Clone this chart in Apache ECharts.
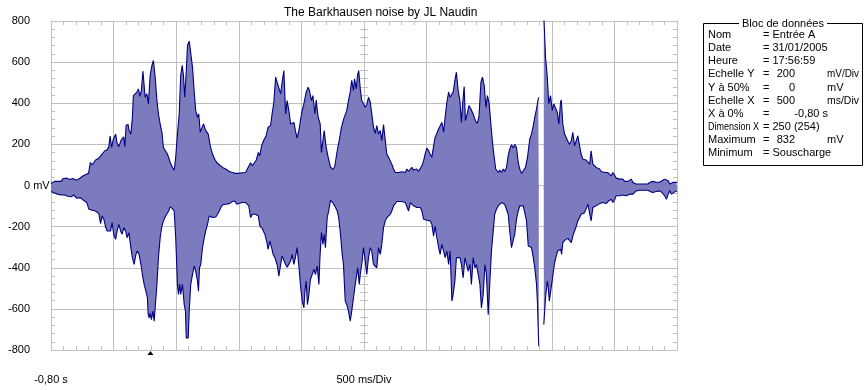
<!DOCTYPE html>
<html><head><meta charset="utf-8">
<script src="https://cdn.jsdelivr.net/npm/echarts@6/dist/echarts.min.js"></script>
<style>html,body{margin:0;padding:0;background:#fff}#c{width:867px;height:390px}</style>
</head><body><div id="c"></div>
<script>
// x in samples (0..250, 25 samples per division), y in mV
const titleText = 'The Barkhausen noise by JL Naudin';
const yTickLabels = {'800':'800','600':'600','400':'400','200':'200','0':'0 mV','-200':'-200','-400':'-400','-600':'-600','-800':'-800'};
const xTickLabels = {'0':'-0,80 s','125':'500 ms/Div'};
const triggerSample = 39.7;

const upper = [[0,10],[1.4,20],[4.1,20],[4.7,33],[6.1,36],[7.4,29],[8.7,34],[10.1,26],[11.4,34],[12.7,46],[14.1,55],[15.0,59],[15.7,111],[16.5,101],[17.8,124],[19.1,133],[20.4,153],[21.5,169],[22.3,172],[23.1,189],[23.6,241],[24.2,185],[24.8,221],[25.8,250],[26.4,205],[27.1,189],[28.0,221],[29.0,237],[29.5,189],[30.0,293],[30.8,296],[31.2,267],[31.9,250],[32.5,332],[32.9,437],[33.5,429],[34.3,454],[34.9,470],[35.5,433],[36.1,462],[36.7,556],[37.2,486],[37.6,429],[38.3,446],[38.9,397],[39.6,535],[40.3,584],[40.9,608],[41.6,527],[42.3,413],[42.9,348],[43.6,299],[44.3,259],[44.9,185],[45.6,177],[46.5,153],[47.6,112],[48.6,85],[49.2,75],[49.8,137],[50.5,250],[51.2,348],[51.8,535],[52.4,584],[52.9,535],[53.4,429],[54.0,551],[54.5,681],[55.2,702],[55.8,702],[56.5,576],[57.2,454],[57.8,364],[58.5,332],[59.0,348],[59.6,259],[60.1,275],[60.9,299],[61.8,267],[62.8,250],[63.6,193],[64.5,153],[65.4,128],[66.2,112],[67.2,101],[68.5,88],[69.8,80],[71.2,68],[72.5,63],[73.8,59],[75.0,59],[76.4,62],[77.7,63],[78.4,80],[79.7,111],[80.4,96],[81.0,91],[82.0,124],[82.8,161],[83.4,145],[84.1,193],[85.0,221],[85.9,242],[86.7,283],[87.7,291],[88.3,348],[89.0,405],[89.7,527],[90.3,502],[91.0,494],[91.7,446],[92.3,502],[93.0,559],[93.7,348],[94.3,413],[95.0,364],[95.7,299],[96.3,291],[97.0,307],[97.6,267],[98.3,231],[99.0,267],[99.6,315],[100.3,364],[101.0,397],[101.9,454],[102.7,478],[103.2,462],[104.0,413],[104.6,437],[105.4,348],[105.9,416],[106.7,332],[107.5,299],[108.0,161],[108.6,218],[109.1,267],[109.9,185],[110.7,137],[111.6,91],[112.5,78],[113.3,91],[114.3,169],[115.2,226],[116.0,283],[116.9,324],[117.5,332],[118.1,364],[118.8,413],[119.5,454],[120.1,511],[120.8,462],[121.2,519],[121.9,470],[122.4,535],[122.9,559],[123.5,470],[124.1,413],[124.8,405],[125.5,380],[126.1,394],[126.8,429],[127.5,405],[128.1,348],[128.8,283],[129.5,254],[130.1,291],[130.8,250],[131.5,267],[132.1,218],[132.8,296],[133.5,218],[134.1,153],[134.8,137],[135.5,140],[136.1,104],[136.8,80],[137.5,63],[138.8,63],[140.1,67],[141.5,63],[142.1,80],[142.8,68],[143.5,68],[144.1,88],[144.8,75],[145.5,75],[146.1,80],[146.8,68],[147.5,75],[148.1,96],[148.8,120],[149.4,153],[150.1,182],[150.8,169],[151.4,153],[152.1,137],[152.8,193],[153.4,234],[154.1,254],[154.8,275],[155.4,283],[156.1,307],[156.8,259],[157.4,332],[158.1,405],[158.8,454],[159.4,429],[160.1,437],[160.6,454],[161.3,511],[161.9,551],[162.6,462],[163.3,413],[163.9,307],[164.6,429],[165.0,481],[165.5,315],[166.2,348],[166.9,389],[167.7,372],[168.6,348],[169.5,315],[170.2,302],[170.9,332],[171.7,502],[172.3,527],[173.0,486],[173.7,380],[174.3,437],[175.0,397],[175.6,307],[176.3,210],[177.0,137],[177.6,80],[178.6,63],[179.2,75],[179.9,63],[180.6,80],[181.2,68],[181.9,88],[182.6,145],[183.2,177],[183.9,198],[184.6,182],[185.2,200],[185.9,185],[186.6,112],[187.2,80],[187.9,59],[188.6,72],[189.5,88],[190.3,137],[191.2,226],[191.9,250],[192.6,291],[193.2,332],[193.9,372],[194.6,421],[194.8,429],[195.8,null],[196.8,832],[197.5,624],[198.2,527],[198.8,397],[199.5,437],[200.2,364],[200.8,397],[201.5,394],[202.2,356],[202.8,299],[203.5,405],[203.8,416],[204.4,299],[205.1,250],[205.8,242],[206.4,215],[207.1,200],[207.8,218],[208.4,259],[209.1,193],[209.8,200],[210.4,242],[211.1,193],[211.7,153],[212.4,128],[213.1,128],[213.7,124],[214.4,124],[215.1,104],[215.7,169],[216.4,104],[217.1,96],[217.7,88],[218.4,88],[219.1,80],[219.7,68],[220.4,75],[221.1,63],[221.7,68],[222.4,63],[223.1,59],[223.7,47],[224.4,63],[225.0,52],[225.7,36],[226.4,42],[227.1,31],[227.7,26],[228.4,31],[229.1,20],[229.7,26],[230.4,20],[231.1,26],[231.7,31],[232.4,15],[233.0,20],[233.7,7],[235.0,7],[237.0,7],[238.3,7],[239.3,16],[240.3,20],[241.7,16],[243.1,16],[244.0,23],[245.1,31],[245.8,36],[246.5,23],[247.1,7],[248.4,15],[249.7,15],[250,15]];

const lower = [[0,-29],[1.4,-36],[2.7,-42],[4.1,-46],[5.4,-46],[6.7,-52],[8.1,-55],[9.0,-46],[10.3,-62],[11.7,-59],[13.0,-72],[14.3,-83],[15.1,-115],[16.5,-120],[17.8,-124],[19.1,-137],[19.8,-185],[20.4,-148],[21.1,-164],[21.8,-202],[22.4,-221],[23.1,-229],[23.8,-221],[24.4,-180],[25.1,-241],[25.8,-262],[26.4,-221],[27.1,-189],[27.8,-221],[28.4,-237],[29.1,-205],[29.8,-221],[30.4,-254],[31.1,-229],[31.9,-302],[32.5,-351],[33.2,-384],[33.9,-335],[34.5,-319],[35.2,-335],[35.9,-384],[36.5,-433],[37.2,-481],[37.9,-514],[38.5,-545],[38.8,-628],[39.2,-644],[39.6,-620],[40.1,-652],[40.7,-611],[41.2,-660],[41.7,-579],[42.3,-481],[42.9,-351],[43.6,-254],[44.3,-197],[44.9,-172],[45.6,-153],[46.2,-140],[47.0,-124],[47.6,-104],[48.4,-111],[49.2,-124],[49.8,-254],[50.5,-481],[50.9,-530],[51.4,-481],[51.8,-530],[52.5,-481],[53.2,-579],[53.7,-611],[54.0,-741],[54.8,-741],[55.2,-611],[55.8,-481],[56.5,-433],[57.2,-392],[57.8,-416],[58.5,-465],[58.9,-514],[59.3,-400],[59.8,-384],[60.5,-302],[61.2,-254],[61.8,-221],[62.5,-189],[63.2,-148],[63.8,-148],[64.5,-156],[65.2,-164],[65.8,-153],[66.5,-140],[67.2,-124],[67.8,-107],[68.5,-94],[69.8,-91],[71.2,-88],[72.5,-78],[73.4,-75],[74.2,-91],[75.0,-88],[76.4,-83],[77.7,-83],[79.0,-99],[79.7,-156],[80.4,-140],[81.7,-140],[82.8,-148],[83.4,-197],[84.3,-208],[85.4,-237],[86.1,-270],[86.7,-311],[87.4,-270],[88.1,-302],[88.7,-335],[89.4,-351],[90.3,-384],[91.0,-441],[91.7,-384],[92.3,-343],[93.0,-335],[93.7,-384],[94.3,-397],[95.0,-392],[95.7,-367],[96.3,-335],[97.0,-384],[97.6,-351],[98.3,-302],[99.0,-392],[99.6,-481],[100.3,-562],[101.0,-595],[101.4,-514],[101.9,-465],[102.4,-579],[103.0,-530],[103.6,-457],[104.3,-433],[105.0,-408],[105.6,-433],[106.3,-392],[107.0,-481],[107.4,-351],[108.0,-229],[108.6,-286],[109.1,-237],[109.6,-302],[110.3,-156],[110.9,-124],[111.6,-72],[112.5,-83],[113.3,-99],[114.3,-124],[114.9,-156],[115.6,-237],[116.3,-335],[116.8,-384],[117.5,-562],[118.1,-579],[118.8,-611],[119.5,-660],[120.1,-611],[120.8,-546],[121.5,-481],[122.1,-433],[122.5,-400],[123.1,-481],[123.5,-433],[124.1,-384],[124.8,-302],[125.5,-367],[126.1,-433],[126.8,-351],[127.5,-302],[128.1,-319],[128.8,-384],[129.5,-392],[130.1,-400],[130.8,-302],[131.5,-335],[132.1,-286],[132.8,-205],[133.5,-172],[134.1,-156],[134.8,-148],[135.5,-140],[136.1,-124],[136.8,-99],[138.1,-78],[140.1,-78],[141.5,-83],[142.1,-91],[142.8,-124],[143.5,-83],[144.1,-91],[144.8,-99],[146.1,-107],[147.5,-107],[148.1,-124],[148.8,-164],[150.1,-169],[151.4,-172],[152.1,-189],[152.8,-246],[153.4,-197],[154.1,-254],[154.8,-302],[155.4,-335],[156.1,-286],[156.8,-319],[157.4,-351],[158.1,-319],[158.8,-384],[159.4,-319],[160.1,-562],[160.6,-530],[161.3,-465],[161.9,-351],[162.6,-343],[163.3,-351],[163.9,-384],[164.6,-449],[165.3,-351],[165.9,-351],[166.6,-416],[167.3,-384],[167.9,-481],[168.6,-351],[169.3,-400],[169.9,-384],[170.6,-376],[171.3,-481],[171.9,-595],[172.6,-530],[173.3,-384],[173.9,-433],[174.6,-628],[175.2,-481],[175.9,-319],[176.6,-221],[177.2,-140],[177.9,-115],[178.6,-99],[179.2,-91],[179.9,-83],[180.6,-78],[181.2,-91],[181.9,-99],[182.6,-140],[183.2,-221],[183.9,-302],[184.6,-302],[185.2,-237],[185.9,-164],[186.6,-124],[187.2,-99],[187.9,-91],[188.6,-99],[189.2,-132],[189.9,-172],[190.6,-294],[191.2,-302],[191.9,-302],[192.6,-351],[193.2,-400],[193.9,-481],[194.3,-579],[194.6,-709],[194.8,-782],[195.8,null],[196.8,-676],[197.5,-546],[198.2,-465],[198.6,-497],[199.0,-562],[199.6,-562],[200.3,-449],[201.0,-384],[201.6,-351],[202.3,-319],[203.0,-319],[203.6,-310],[203.9,-335],[204.4,-278],[205.1,-267],[205.8,-262],[206.4,-257],[207.1,-262],[207.8,-278],[208.4,-246],[209.1,-221],[209.8,-197],[210.4,-172],[211.1,-156],[211.7,-140],[212.4,-148],[213.1,-132],[213.7,-124],[214.4,-91],[215.1,-91],[215.7,-172],[216.4,-107],[217.1,-104],[217.7,-99],[218.4,-94],[219.1,-88],[219.7,-83],[220.4,-83],[221.1,-75],[221.7,-88],[222.4,-78],[223.1,-72],[223.7,-67],[224.4,-83],[225.0,-72],[225.7,-50],[226.4,-46],[227.1,-50],[227.7,-42],[228.4,-46],[229.1,-42],[229.7,-50],[230.4,-42],[231.1,-42],[231.7,-34],[232.4,-42],[233.0,-39],[233.7,-26],[235.0,-23],[238.3,-23],[239.3,-29],[240.3,-34],[241.7,-29],[243.1,-26],[244.0,-34],[245.1,-50],[245.8,-67],[246.5,-42],[247.1,-26],[247.8,-42],[248.4,-34],[249.7,-26],[250,-29]];

const infoTitle = 'Bloc de données';
const infoLabels = ['Nom','Date','Heure','Echelle Y','Y à 50%','Echelle X','X à 0%','Dimension X','Maximum','Minimum'];
const infoValues = ['= Entrée A','= 31/01/2005','= 17:56:59','200','0','500','-0,80 s','= 250 (254)','832','= Souscharge'];
const infoUnits = ['','','','mV/Div','mV','ms/Div','','','mV',''];

const FONT = '"Liberation Sans", Arial, sans-serif';
const GRID = '#c0c0c0';
const FILL = '#7b7bbd';
const LINE = '#000080';

const measureCtx = document.createElement('canvas').getContext('2d');
measureCtx.font = '11px ' + FONT;
function fitScale(text, maxW) {
  const w = measureCtx.measureText(text).width;
  return w > maxW ? maxW / w : 1;
}

const chart = echarts.init(document.getElementById('c'), null, {renderer:'canvas'});

const gfx = [];
const bx = 703.5, by = 23.5, bw = 159, bh = 142;
gfx.push({type:'rect', shape:{x:bx,y:by,width:bw,height:bh}, style:{fill:'#fff',stroke:'#000',lineWidth:1}, z:10});
gfx.push({type:'text', x:bx+bw/2, y:by, style:{text:infoTitle, font:'11px '+FONT, fill:'#000', align:'center', verticalAlign:'middle', backgroundColor:'#fff', padding:[0,3]}, z:11});
infoLabels.forEach((lab,i)=>{
  const yy = 35 + i*13.15;
  gfx.push({type:'text', x:708, y:yy, scaleX:fitScale(lab, 51), style:{text:lab, font:'11px '+FONT, fill:'#000', verticalAlign:'middle'}, z:11});
  const v = infoValues[i];
  if (v.charAt(0) === '=') {
    gfx.push({type:'text', x:763, y:yy, style:{text:v, font:'11px '+FONT, fill:'#000', verticalAlign:'middle'}, z:11});
  } else {
    gfx.push({type:'text', x:763, y:yy, style:{text:'=', font:'11px '+FONT, fill:'#000', verticalAlign:'middle'}, z:11});
    const right = infoUnits[i] ? 795 : 828;
    gfx.push({type:'text', x:right, y:yy, style:{text:v, font:'11px '+FONT, fill:'#000', align:'right', verticalAlign:'middle'}, z:11});
    if (infoUnits[i]) gfx.push({type:'text', x:827, y:yy, scaleX:fitScale(infoUnits[i], 32), style:{text:infoUnits[i], font:'11px '+FONT, fill:'#000', verticalAlign:'middle'}, z:11});
  }
});

const baseX = {type:'value', min:0, max:250, interval:25, gridIndex:0};
const baseY = {type:'value', min:-800, max:800, interval:200, gridIndex:0};

chart.setOption({
  animation:false,
  backgroundColor:'#fff',
  textStyle:{fontFamily:FONT},
  title:{text:titleText, left:279, top:2, textStyle:{fontSize:12, fontWeight:'normal', color:'#000', fontFamily:FONT}},
  grid:{left:51, top:21, width:626, height:329, containLabel:false},
  xAxis:[
    Object.assign({}, baseX, {position:'bottom',
      axisLine:{show:true, onZero:false, lineStyle:{color:GRID,width:1}},
      axisTick:{show:false, inside:true},
      minorTick:{show:true, splitNumber:5, length:4, lineStyle:{color:GRID}},
      splitLine:{show:true, lineStyle:{color:GRID,width:1}},
      axisLabel:{show:true, margin:24, color:'#000', fontSize:11, fontFamily:FONT, showMinLabel:true, showMaxLabel:true,
        formatter:(v)=> xTickLabels[String(v)] || ''}}),
    Object.assign({}, baseX, {position:'top',
      axisLine:{show:true, onZero:false, lineStyle:{color:GRID,width:1}},
      axisTick:{show:false, inside:true},
      minorTick:{show:true, splitNumber:5, length:4, lineStyle:{color:GRID}},
      splitLine:{show:false}, axisLabel:{show:false}})
  ],
  yAxis:[
    Object.assign({}, baseY, {position:'left',
      axisLine:{show:true, onZero:false, lineStyle:{color:GRID,width:1}},
      axisTick:{show:false, inside:true},
      minorTick:{show:true, splitNumber:5, length:4, lineStyle:{color:GRID}},
      splitLine:{show:true, lineStyle:{color:GRID,width:1}},
      axisLabel:{show:true, margin:21, color:'#000', fontSize:11, fontFamily:FONT,
        formatter:(v)=> { const s = yTickLabels[String(v)] || ''; return v === 0 ? '{z|'+s+'}' : s; },
        rich:{z:{width:6, align:'left', fontSize:11, fontFamily:FONT, color:'#000'}}}}),
    Object.assign({}, baseY, {position:'right',
      axisLine:{show:true, onZero:false, lineStyle:{color:GRID,width:1}},
      axisTick:{show:false, inside:true},
      minorTick:{show:true, splitNumber:5, length:4, lineStyle:{color:GRID}},
      splitLine:{show:false}, axisLabel:{show:false}}),
    Object.assign({}, baseY, {position:'left', offset:-313,
      axisLine:{show:false, onZero:false},
      axisTick:{show:false, inside:true},
      minorTick:{show:true, splitNumber:5, length:4, lineStyle:{color:GRID}},
      splitLine:{show:false}, axisLabel:{show:false}}),
    Object.assign({}, baseY, {position:'left', offset:-313,
      axisLine:{show:false, onZero:false},
      axisTick:{show:false, inside:false},
      minorTick:{show:true, splitNumber:5, length:4, lineStyle:{color:GRID}},
      splitLine:{show:false}, axisLabel:{show:false}})
  ],
  series:[
    {type:'line', name:'upper', data:upper, xAxisIndex:0, yAxisIndex:0, showSymbol:false, symbol:'none',
      connectNulls:false, lineStyle:{color:LINE, width:1.1}, areaStyle:{color:FILL, opacity:1, origin:-20}, z:3},
    {type:'line', name:'lower', data:lower, xAxisIndex:0, yAxisIndex:0, showSymbol:false, symbol:'none',
      connectNulls:false, lineStyle:{color:LINE, width:1.1}, areaStyle:{color:FILL, opacity:1, origin:0}, z:3,
      markPoint:{symbol:'triangle', symbolSize:[6,4], symbolOffset:[0,3], silent:true, label:{show:false},
        itemStyle:{color:'#000'}, data:[{coord:[triggerSample,-800]}]}}
  ],
  graphic:gfx
});
</script></body></html>
